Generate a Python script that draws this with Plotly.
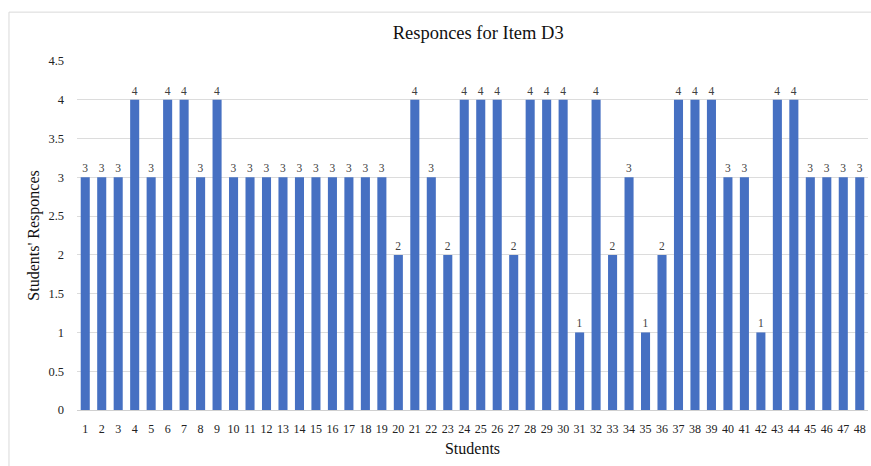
import plotly.graph_objects as go

students = [str(i) for i in range(1, 49)]
responses = [3, 3, 3, 4, 3, 4, 4, 3, 4, 3, 3, 3, 3, 3, 3, 3, 3, 3, 3, 2,
             4, 3, 2, 4, 4, 4, 2, 4, 4, 4, 1, 4, 2, 3, 1, 2, 4, 4, 4, 3,
             3, 1, 4, 4, 3, 3, 3, 3]
y_ticks = [0, 0.5, 1, 1.5, 2, 2.5, 3, 3.5, 4, 4.5]
y_tick_labels = ["0", "0.5", "1", "1.5", "2", "2.5", "3", "3.5", "4", "4.5"]

serif = "Liberation Serif, Times New Roman, serif"

fig = go.Figure(go.Bar(
    x=students, y=responses,
    marker=dict(color="#4670c2", line=dict(width=0)),
    text=[str(v) for v in responses], textposition="outside",
    textfont=dict(family=serif, size=11.5, color="#404040"),
    cliponaxis=False,
))

fig.update_layout(
    width=871, height=466,
    margin=dict(l=77, r=3, t=61, b=56),
    paper_bgcolor="white", plot_bgcolor="white",
    bargap=0.45,
    showlegend=False,
    title=dict(text="Responces for Item D3", x=0.549, xref="container", xanchor="center",
               y=0.931, yref="container", yanchor="middle",
               font=dict(family=serif, size=18.5, color="#111")),
    xaxis=dict(type="category", tickfont=dict(family=serif, size=12, color="#222"),
               showgrid=False, showline=True, linecolor="#d0d0d0", linewidth=1,
               ticks="", ticklabelstandoff=8,
               title=dict(text="Students", font=dict(family=serif, size=16, color="#111"), standoff=7)),
    yaxis=dict(range=[0, 4.5], tickvals=y_ticks, ticktext=y_tick_labels,
               tickfont=dict(family=serif, size=12.5, color="#222"),
               showgrid=True, gridcolor="#dcdcdc", gridwidth=1, zeroline=False,
               ticks="", ticklabelstandoff=12,
               title=dict(text="Students' Responces", font=dict(family=serif, size=16, color="#111"), standoff=4)),
    shapes=[dict(type="rect", xref="paper", yref="paper", x0=-0.086, x1=1.05, y0=-0.2, y1=1.14,
                 line=dict(color="#d9d9d9", width=1), layer="below")],
)

fig.write_html("out.html", config={"displayModeBar": False},
               post_script="document.body.style.margin='0';document.body.style.overflow='hidden';")
